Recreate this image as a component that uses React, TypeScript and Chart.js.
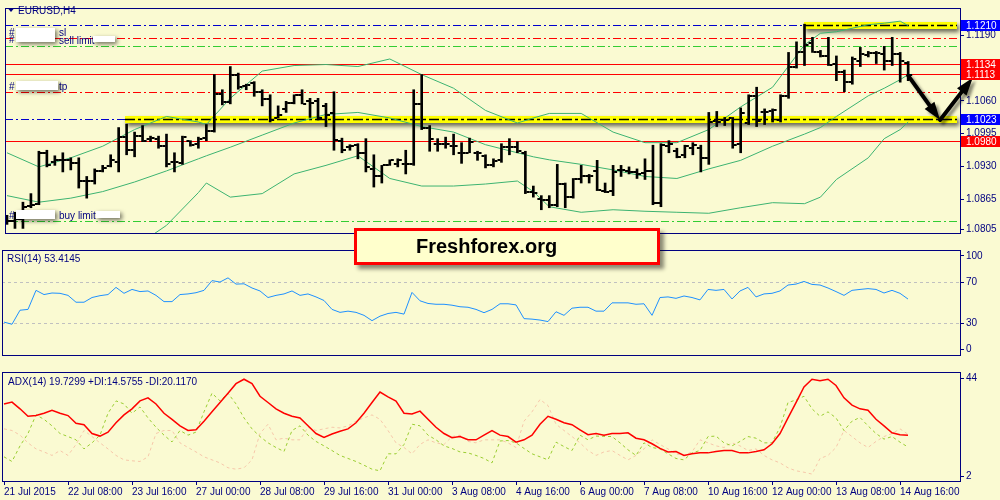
import React, { useEffect, useRef } from 'react';
import { Chart, registerables } from 'chart.js';

Chart.register(...registerables);

// ---------------- data ----------------
const xTickIdx = [0, 8, 16, 24, 32, 40, 48, 56, 64, 72, 80, 88, 96, 104, 112];
const xTickLabels = [
  '21 Jul 2015', '22 Jul 08:00', '23 Jul 16:00', '27 Jul 00:00', '28 Jul 08:00',
  '29 Jul 16:00', '31 Jul 00:00', '3 Aug 08:00', '4 Aug 16:00', '6 Aug 00:00',
  '7 Aug 08:00', '10 Aug 16:00', '12 Aug 00:00', '13 Aug 08:00', '14 Aug 16:00',
];

const opens = [
  1.0820, 1.0822, 1.0826, 1.0852, 1.0856, 1.0957, 1.0938, 1.0943, 1.0942, 1.0936,
  1.0901, 1.0901, 1.0921, 1.0930, 1.0938, 1.0988, 1.0962, 1.0990, 1.0985, 1.0985,
  1.0970, 1.0938, 1.0936, 1.0981, 1.0975, 1.0986, 1.1001, 1.1074, 1.1057, 1.1112,
  1.1089, 1.1095, 1.1078, 1.1063, 1.1026, 1.1044, 1.1055, 1.1072, 1.1059, 1.1059,
  1.1050, 1.1035, 1.0981, 1.0968, 1.0973, 1.0957, 1.0925, 1.0910, 1.0932, 1.0934,
  1.0934, 1.0934, 1.1054, 1.1007, 1.0975, 1.0975, 1.0970, 1.0957, 1.0957, 1.0957,
  1.0951, 1.0932, 1.0942, 1.0968, 1.0968, 1.0957, 1.0880, 1.0865, 1.0863, 1.0854,
  1.0895, 1.0869, 1.0904, 1.0910, 1.0921, 1.0882, 1.0882, 1.0923, 1.0921, 1.0919,
  1.0917, 1.0921, 1.0858, 1.0970, 1.0960, 1.0953, 1.0966, 1.0966, 1.0947, 1.1020,
  1.1022, 1.1026, 1.0975, 1.1016, 1.1069, 1.1037, 1.1039, 1.1022, 1.1070, 1.1128,
  1.1156, 1.1175, 1.1156, 1.1149, 1.1134, 1.1117, 1.1097, 1.1138, 1.1151, 1.1154,
  1.1153, 1.1138, 1.1153, 1.1136,
];
const highs = [
  1.0833, 1.0839, 1.0859, 1.0876, 1.0960, 1.0962, 1.0951, 1.0957, 1.0947, 1.0947,
  1.0910, 1.0925, 1.0932, 1.0953, 1.1007, 1.1014, 1.0998, 1.1011, 1.0990, 1.0990,
  1.0994, 1.0957, 1.0990, 1.0981, 1.0988, 1.1013, 1.1112, 1.1082, 1.1128, 1.1115,
  1.1093, 1.1098, 1.1082, 1.1072, 1.1050, 1.1059, 1.1072, 1.1082, 1.1065, 1.1065,
  1.1055, 1.1078, 1.0986, 1.0973, 1.0975, 1.0985, 1.0953, 1.0932, 1.0943, 1.0945,
  1.0962, 1.1082, 1.1112, 1.1011, 1.0985, 1.0988, 1.0994, 1.0977, 1.0986, 1.0960,
  1.0953, 1.0945, 1.0975, 1.0985, 1.0979, 1.0960, 1.0891, 1.0872, 1.0872, 1.0934,
  1.0897, 1.0906, 1.0932, 1.0914, 1.0942, 1.0897, 1.0932, 1.0932, 1.0929, 1.0925,
  1.0945, 1.0972, 1.0975, 1.0981, 1.0966, 1.0972, 1.0977, 1.0972, 1.1037, 1.1039,
  1.1027, 1.1027, 1.1046, 1.1072, 1.1087, 1.1044, 1.1044, 1.1072, 1.1156, 1.1177,
  1.1212, 1.1186, 1.1160, 1.1186, 1.1149, 1.1121, 1.1147, 1.1166, 1.1158, 1.1158,
  1.1168, 1.1186, 1.1156, 1.1138,
];
const lows = [
  1.0815, 1.0807, 1.0807, 1.0848, 1.0854, 1.0929, 1.0932, 1.0919, 1.0923, 1.0887,
  1.0867, 1.0895, 1.0919, 1.0929, 1.0919, 1.0953, 1.0949, 1.0979, 1.0979, 1.0966,
  1.0929, 1.0919, 1.0934, 1.0970, 1.0966, 1.0981, 1.0998, 1.1052, 1.1054, 1.1083,
  1.1082, 1.1069, 1.1050, 1.1018, 1.1026, 1.1037, 1.1054, 1.1054, 1.1027, 1.1022,
  1.1009, 1.0962, 1.0957, 1.0962, 1.0945, 1.0919, 1.0889, 1.0897, 1.0932, 1.0929,
  1.0915, 1.0932, 1.1003, 1.0960, 1.0960, 1.0966, 1.0953, 1.0936, 1.0957, 1.0942,
  1.0927, 1.0929, 1.0938, 1.0953, 1.0957, 1.0876, 1.0869, 1.0844, 1.0848, 1.0850,
  1.0848, 1.0867, 1.0897, 1.0897, 1.0882, 1.0878, 1.0872, 1.0910, 1.0915, 1.0906,
  1.0904, 1.0854, 1.0850, 1.0957, 1.0947, 1.0947, 1.0953, 1.0919, 1.0934, 1.1009,
  1.1011, 1.0966, 1.0957, 1.1013, 1.1009, 1.1013, 1.1018, 1.1018, 1.1065, 1.1125,
  1.1130, 1.1156, 1.1147, 1.1130, 1.1100, 1.1078, 1.1093, 1.1128, 1.1147, 1.1134,
  1.1121, 1.1130, 1.1097, 1.1100,
];
const closes = [
  1.0822, 1.0826, 1.0850, 1.0854, 1.0957, 1.0932, 1.0943, 1.0942, 1.0936, 1.0901,
  1.0901, 1.0921, 1.0927, 1.0942, 1.0988, 1.0962, 1.0990, 1.0981, 1.0986, 1.0970,
  1.0934, 1.0938, 1.0988, 1.0973, 1.0985, 1.1001, 1.1074, 1.1057, 1.1112, 1.1087,
  1.1091, 1.1078, 1.1063, 1.1022, 1.1031, 1.1055, 1.1072, 1.1054, 1.1055, 1.1026,
  1.1031, 1.0983, 1.0962, 1.0970, 1.0957, 1.0929, 1.0910, 1.0932, 1.0942, 1.0943,
  1.0934, 1.1054, 1.1007, 1.0985, 1.0975, 1.0975, 1.0970, 1.0957, 1.0979, 1.0957,
  1.0932, 1.0940, 1.0968, 1.0968, 1.0960, 1.0880, 1.0878, 1.0863, 1.0854, 1.0895,
  1.0869, 1.0904, 1.0910, 1.0910, 1.0884, 1.0880, 1.0919, 1.0923, 1.0919, 1.0915,
  1.0921, 1.0858, 1.0973, 1.0975, 1.0949, 1.0970, 1.0972, 1.0947, 1.1018, 1.1018,
  1.1022, 1.0973, 1.1035, 1.1069, 1.1020, 1.1037, 1.1041, 1.1070, 1.1128, 1.1156,
  1.1171, 1.1156, 1.1149, 1.1132, 1.1117, 1.1097, 1.1143, 1.1153, 1.1154, 1.1154,
  1.1138, 1.1153, 1.1138, 1.1112,
];

const bandIdx = [0, 4, 8, 12, 16, 20, 24, 25, 28, 32, 36, 40, 44, 48, 52, 56, 60, 64, 66, 68, 72, 76, 80, 84, 88, 92, 96, 100, 102, 104, 108, 110, 112, 113];
const bbUpper = [
  1.0957, 1.0929, 1.0947, 1.0970, 1.1003, 1.1029, 1.1018, 1.1013, 1.1065, 1.1119,
  1.1130, 1.1132, 1.1128, 1.1143, 1.1112, 1.1085, 1.1041, 1.1016, 1.1026, 1.1035,
  1.1035, 1.0998, 1.0977, 1.0977, 1.1003, 1.1048, 1.1087, 1.1171, 1.1194, 1.1197,
  1.1211, 1.1214, 1.1218, 1.1209,
];
const bbMiddle = [
  1.0872, 1.0859, 1.0867, 1.0880, 1.0899, 1.0921, 1.0945, 1.0951, 1.0968, 1.0992,
  1.1016, 1.1033, 1.1037, 1.1026, 1.1009, 1.0998, 1.0973, 1.0957, 1.0949, 1.0943,
  1.0934, 1.0923, 1.0910, 1.0906, 1.0925, 1.0942, 1.0970, 1.0994, 1.1007, 1.1029,
  1.1070, 1.1085, 1.1102, 1.1112,
];
const bbLower = [
  1.0686, 1.0695, 1.0714, 1.0732, 1.0770, 1.0813, 1.0878, 1.0897, 1.0869, 1.0876,
  1.0915, 1.0932, 1.0951, 1.0906, 1.0891, 1.0891, 1.0895, 1.0901, 1.0880, 1.0850,
  1.0839, 1.0844, 1.0841, 1.0839, 1.0837, 1.0848, 1.0858, 1.0856, 1.0869, 1.0904,
  1.0947, 1.0985, 1.1003, 1.1018,
];

const rsi = [
  30.9, 28.8, 42.5, 43.3, 61.9, 57.8, 59.3, 59.0, 57.0, 50.3,
  50.3, 54.9, 56.7, 57.8, 64.8, 59.0, 62.8, 60.7, 61.3, 57.0,
  50.9, 50.9, 57.8, 58.4, 59.6, 61.9, 71.4, 70.0, 74.1, 68.0,
  68.3, 64.2, 61.3, 54.9, 57.0, 58.4, 61.3, 57.0, 58.4, 55.5,
  52.0, 43.3, 40.4, 41.6, 40.4, 37.5, 32.3, 36.7, 39.3, 40.4,
  38.7, 59.9, 51.7, 49.1, 48.3, 48.3, 47.4, 45.9, 45.4, 43.3,
  40.1, 43.3, 48.8, 48.8, 47.7, 34.3, 33.8, 32.9, 31.4, 41.0,
  37.5, 44.5, 45.4, 45.4, 41.6, 41.6, 49.7, 49.7, 49.7, 48.3,
  48.8, 37.5, 54.9, 55.5, 54.1, 56.4, 54.9, 52.6, 62.8, 61.9,
  62.8, 53.5, 61.3, 64.8, 55.5, 58.4, 59.0, 61.3, 67.1, 68.0,
  70.6, 67.7, 67.1, 64.2, 60.7, 57.0, 61.9, 62.8, 63.6, 62.8,
  59.3, 61.9, 59.0, 53.4,
];

const adx = [
  33.1, 33.9, 31.0, 27.8, 28.1, 29.1, 30.4, 29.1, 28.1, 24.8,
  24.2, 20.4, 19.3, 21.0, 25.0, 28.4, 31.0, 34.4, 35.7, 33.1,
  29.1, 26.5, 23.7, 21.7, 22.0, 25.7, 29.7, 33.7, 37.7, 41.8,
  43.7, 41.8, 36.4, 33.7, 31.0, 29.1, 27.8, 27.1, 23.7, 20.4,
  18.7, 20.2, 21.4, 22.4, 25.0, 29.1, 33.7, 38.2, 36.1, 34.3,
  29.1, 28.8, 30.0, 26.5, 23.1, 20.4, 18.6, 19.1, 17.7, 17.7,
  19.7, 21.7, 19.7, 19.1, 16.7, 17.7, 19.7, 24.4, 27.8, 26.5,
  25.0, 24.2, 22.0, 19.9, 20.4, 19.7, 20.4, 20.4, 20.7, 18.4,
  17.7, 16.0, 14.0, 12.5, 12.7, 11.0, 11.7, 12.1, 12.1, 12.7,
  13.1, 13.1, 12.1, 12.1, 12.7, 13.4, 16.0, 20.4, 27.1, 33.7,
  40.4, 43.7, 43.1, 43.7, 41.0, 35.7, 32.6, 31.0, 30.4, 26.5,
  23.7, 20.7, 19.9, 19.7,
];
const plusDI = [
  10.4, 8.4, 15.1, 20.4, 28.4, 26.5, 23.7, 20.4, 19.1, 17.7,
  13.8, 16.4, 19.7, 29.1, 34.4, 33.1, 29.1, 31.8, 27.1, 23.1,
  19.7, 16.8, 21.7, 19.7, 21.0, 29.7, 37.7, 34.4, 37.7, 33.1,
  27.1, 22.4, 19.1, 16.4, 14.4, 12.7, 21.7, 23.7, 19.7, 17.0,
  15.1, 13.1, 11.0, 9.7, 8.4, 6.8, 5.1, 4.4, 11.7, 11.7,
  15.7, 24.4, 23.7, 19.7, 17.7, 15.1, 14.0, 12.5, 12.1, 11.0,
  9.7, 7.8, 17.2, 17.4, 16.4, 14.0, 11.7, 10.4, 9.1, 16.7,
  14.8, 13.1, 19.7, 17.7, 19.3, 19.2, 19.1, 16.4, 13.4, 11.0,
  16.4, 14.4, 13.8, 11.7, 9.7, 9.1, 12.1, 13.1, 19.1, 19.3,
  16.4, 15.1, 17.0, 19.1, 18.4, 16.4, 16.4, 23.1, 33.7, 34.8,
  36.4, 31.0, 27.8, 29.7, 27.1, 21.7, 25.7, 27.3, 23.7, 20.4,
  18.0, 19.1, 16.7, 14.6,
];
const minusDI = [
  22.4, 21.7, 19.7, 16.4, 13.8, 12.5, 11.0, 13.1, 11.0, 15.7,
  21.7, 19.1, 16.4, 13.8, 11.0, 9.1, 8.7, 8.4, 10.4, 20.4,
  21.7, 21.7, 16.4, 14.4, 12.5, 10.4, 9.1, 7.8, 5.7, 5.1,
  5.7, 9.1, 20.4, 24.4, 17.7, 18.4, 17.7, 17.7, 23.1, 21.7,
  22.4, 23.1, 22.8, 23.7, 25.7, 27.1, 28.4, 26.5, 21.7, 16.4,
  14.4, 11.7, 15.7, 17.7, 16.4, 15.7, 19.1, 19.7, 17.0, 16.4,
  17.7, 17.7, 17.7, 16.4, 14.4, 25.7, 29.7, 35.0, 32.4, 24.4,
  21.7, 19.1, 16.4, 13.1, 11.0, 12.5, 13.1, 11.0, 9.1, 11.0,
  13.8, 17.7, 15.7, 13.8, 11.7, 11.0, 12.5, 17.7, 16.4, 15.1,
  14.4, 16.4, 15.1, 13.1, 13.8, 11.0, 9.1, 7.8, 5.7, 4.4,
  3.8, 3.0, 9.7, 11.0, 14.4, 21.7, 19.1, 16.4, 14.4, 17.0,
  19.1, 20.4, 22.4, 20.1,
];

const mainTicks = [1.1190, 1.1125, 1.1060, 1.0995, 1.0930, 1.0865, 1.0805];
const levelPrices = [1.1210, 1.1184, 1.1169, 1.1134, 1.1113, 1.1078, 1.1023, 1.0980, 1.0822];
const levelKinds = ['blueDD', 'redDD', 'greenDD', 'red', 'red', 'redDD', 'blueDD', 'red', 'greenDD'];
const zonePrices = [1.1210, 1.1023];
const zoneStartIdx = [99.9, 14.75];
const priceTags = [1.1210, 1.1134, 1.1113, 1.1023, 1.0980];
const priceTagKinds = ['blue', 'red', 'red', 'blue', 'red'];
const arrowIdx = [113, 117, 121.1];
const arrowPrice = [1.1110, 1.1022, 1.1106];
const rsiTickVals = [95.5, 70, 30, 4.3];
const rsiTickLabels = ['100', '70', '30', '0'];
const rsiLevels = [70, 30];
const adxTicks = [44, 2];

// ---------------- styles ----------------
const BG = '#FAFAD2';
const NAVY = '#000080';
const FONT = "'Liberation Sans', Arial, sans-serif";
const X_MIN = -0.25;
const X_MAX = 119.625;
const DD = [8, 3, 2, 3];
const levelStyles: Record<string, { color: string; dash: number[] }> = {
  blueDD: { color: '#0000CD', dash: DD },
  redDD: { color: '#FF0000', dash: DD },
  greenDD: { color: '#32CD32', dash: DD },
  red: { color: '#FF0000', dash: [] },
};
const tagColors: Record<string, string> = { blue: '#0000FF', red: '#FF0000' };

function drawFrame(chart: any) {
  const { ctx, chartArea: a } = chart;
  ctx.save();
  ctx.strokeStyle = NAVY;
  ctx.lineWidth = 1;
  ctx.setLineDash([]);
  ctx.strokeRect(a.left + 0.5, a.top + 0.5, a.right - a.left - 1, a.bottom - a.top - 1);
  ctx.restore();
}

function drawArrow(ctx: CanvasRenderingContext2D, x0: number, y0: number, x1: number, y1: number) {
  const ang = Math.atan2(y1 - y0, x1 - x0);
  const headLen = 18;
  const headW = 6;
  const bx = x1 - headLen * Math.cos(ang);
  const by = y1 - headLen * Math.sin(ang);
  ctx.beginPath();
  ctx.moveTo(x0, y0);
  ctx.lineTo(bx, by);
  ctx.stroke();
  ctx.beginPath();
  ctx.moveTo(x1, y1);
  ctx.lineTo(bx + headW * Math.sin(ang), by - headW * Math.cos(ang));
  ctx.lineTo(bx - headW * Math.sin(ang), by + headW * Math.cos(ang));
  ctx.closePath();
  ctx.fill();
}

function maskRect(ctx: CanvasRenderingContext2D, x: number, y: number, w: number, h: number) {
  ctx.save();
  ctx.shadowColor = 'rgba(0,0,0,0.55)';
  ctx.shadowBlur = 4;
  ctx.shadowOffsetX = 2;
  ctx.shadowOffsetY = 2;
  ctx.fillStyle = '#FFFFFF';
  ctx.fillRect(x, y, w, h);
  ctx.restore();
}

const mainOverlay = {
  id: 'mainOverlay',
  beforeDatasetsDraw(chart: any) {
    const { ctx, chartArea: a, scales } = chart;
    const x = scales.x;
    const y = scales.y;
    ctx.save();
    ctx.beginPath();
    ctx.rect(a.left, a.top, a.right - a.left, a.bottom - a.top);
    ctx.clip();
    levelPrices.forEach((p, k) => {
      const st = levelStyles[levelKinds[k]];
      const py = Math.round(y.getPixelForValue(p)) + 0.5;
      ctx.strokeStyle = st.color;
      ctx.lineWidth = 1;
      ctx.setLineDash(st.dash);
      ctx.beginPath();
      ctx.moveTo(a.left, py);
      ctx.lineTo(a.right, py);
      ctx.stroke();
    });
    zonePrices.forEach((p, k) => {
      const py = Math.round(y.getPixelForValue(p));
      const x0 = Math.round(x.getPixelForValue(zoneStartIdx[k]));
      const x1 = a.right - 4;
      ctx.save();
      ctx.setLineDash([]);
      ctx.shadowColor = 'rgba(0,0,0,0.6)';
      ctx.shadowBlur = 4;
      ctx.shadowOffsetX = 2;
      ctx.shadowOffsetY = 3;
      ctx.fillStyle = '#FFFF00';
      ctx.fillRect(x0, py - 3, x1 - x0, 7);
      ctx.restore();
      ctx.strokeStyle = '#000000';
      ctx.lineWidth = 1.5;
      ctx.setLineDash([10, 3, 3, 3]);
      ctx.beginPath();
      ctx.moveTo(x0, py + 0.5);
      ctx.lineTo(x1, py + 0.5);
      ctx.stroke();
    });
    ctx.restore();
  },
  afterDraw(chart: any) {
    const { ctx, chartArea: a, scales } = chart;
    const x = scales.x;
    const y = scales.y;
    drawFrame(chart);
    ctx.save();
    // order labels
    const lineY = (p: number) => Math.round(y.getPixelForValue(p));
    const ySl = lineY(levelPrices[1]);
    const ySell = lineY(levelPrices[2]);
    const yTp = lineY(levelPrices[5]);
    const yBuy = lineY(levelPrices[8]);
    ctx.font = `10px ${FONT}`;
    ctx.textBaseline = 'alphabetic';
    ctx.textAlign = 'left';
    ctx.fillStyle = NAVY;
    ctx.fillText('#', 9, ySl - 2);
    ctx.fillText('#', 9, ySell - 3);
    ctx.fillText('sl', 59, ySl - 2);
    ctx.fillText('sell limit', 59, ySell - 2);
    ctx.fillText('#', 9, yTp - 2);
    ctx.fillText('tp', 59, yTp - 2);
    ctx.fillText('#', 9, yBuy - 2);
    ctx.fillText('buy limit', 59, yBuy - 2);
    maskRect(ctx, 16, ySl - 10, 39, ySell - ySl + 6);
    maskRect(ctx, 93, ySell - 10, 22, 6);
    maskRect(ctx, 16, yTp - 11, 42, 9);
    maskRect(ctx, 16, yBuy - 11, 39, 9);
    maskRect(ctx, 96, yBuy - 10, 24, 7);

    // arrows
    const pts = arrowIdx.map((v, k) => [x.getPixelForValue(v), y.getPixelForValue(arrowPrice[k])]);
    ctx.save();
    ctx.shadowColor = 'rgba(0,0,0,0.45)';
    ctx.shadowBlur = 3;
    ctx.shadowOffsetX = 3;
    ctx.shadowOffsetY = 3;
    ctx.strokeStyle = '#000000';
    ctx.fillStyle = '#000000';
    ctx.lineWidth = 4;
    ctx.lineCap = 'round';
    drawArrow(ctx, pts[0][0], pts[0][1], pts[1][0], pts[1][1]);
    drawArrow(ctx, pts[1][0], pts[1][1], pts[2][0], pts[2][1]);
    ctx.restore();

    // price tags on the axis
    priceTags.forEach((p, k) => {
      const py = Math.round(y.getPixelForValue(p));
      ctx.fillStyle = tagColors[priceTagKinds[k]];
      ctx.fillRect(a.right, py - 5, 1000 - a.right, 11);
      ctx.fillStyle = '#FFFFFF';
      ctx.font = `10px ${FONT}`;
      ctx.textBaseline = 'middle';
      ctx.textAlign = 'left';
      ctx.fillText(p.toFixed(4), a.right + 5, py + 1);
    });

    // title
    ctx.fillStyle = NAVY;
    ctx.beginPath();
    ctx.moveTo(8, 8.5);
    ctx.lineTo(14, 8.5);
    ctx.lineTo(11, 12);
    ctx.closePath();
    ctx.fill();
    ctx.font = `10px ${FONT}`;
    ctx.textBaseline = 'middle';
    ctx.textAlign = 'left';
    ctx.fillText('EURUSD,H4', 18, 11);
    ctx.restore();
  },
};

const rsiOverlay = {
  id: 'rsiOverlay',
  beforeDatasetsDraw(chart: any) {
    const { ctx, chartArea: a, scales } = chart;
    ctx.save();
    ctx.strokeStyle = '#C0C0C0';
    ctx.lineWidth = 1;
    ctx.setLineDash([3, 3]);
    rsiLevels.forEach((v) => {
      const py = Math.round(scales.y.getPixelForValue(v)) + 0.5;
      ctx.beginPath();
      ctx.moveTo(a.left, py);
      ctx.lineTo(a.right, py);
      ctx.stroke();
    });
    ctx.restore();
  },
  afterDraw(chart: any) {
    const { ctx, chartArea: a } = chart;
    drawFrame(chart);
    ctx.save();
    ctx.fillStyle = NAVY;
    ctx.font = `10px ${FONT}`;
    ctx.textBaseline = 'middle';
    ctx.textAlign = 'left';
    ctx.fillText('RSI(14) 53.4145', a.left + 5, a.top + 9);
    ctx.restore();
  },
};

const adxOverlay = {
  id: 'adxOverlay',
  afterDraw(chart: any) {
    const { ctx, chartArea: a } = chart;
    drawFrame(chart);
    ctx.save();
    ctx.fillStyle = NAVY;
    ctx.font = `10px ${FONT}`;
    ctx.textBaseline = 'middle';
    ctx.textAlign = 'left';
    ctx.fillText('ADX(14) 19.7299 +DI:14.5755 -DI:20.1170', a.left + 6, a.top + 10);
    ctx.restore();
  },
};

function yAxisCommon() {
  return {
    position: 'right' as const,
    afterFit: (s: any) => {
      s.width = 39;
    },
    ticks: { autoSkip: false, color: NAVY, font: { family: FONT, size: 10 }, padding: 2 },
    grid: { drawOnChartArea: false, drawTicks: true, tickLength: 3, color: NAVY },
    border: { display: false },
  };
}

function hiddenX() {
  return { type: 'linear' as const, min: X_MIN, max: X_MAX, display: false, offset: false };
}

function makeTick(color: string, side: 'left' | 'right') {
  const c = document.createElement('canvas');
  c.width = 10;
  c.height = 2;
  const g = c.getContext('2d')!;
  g.fillStyle = color;
  if (side === 'left') g.fillRect(1, 0, 3, 2);
  else g.fillRect(6, 0, 3, 2);
  return c;
}

export default function App() {
  const mainRef = useRef<HTMLCanvasElement>(null);
  const rsiRef = useRef<HTMLCanvasElement>(null);
  const adxRef = useRef<HTMLCanvasElement>(null);

  useEffect(() => {
    document.body.style.margin = '0';
    Chart.defaults.font.family = FONT;
    const barIdx = opens.map((_, i) => i);
    const openTick = makeTick('#000000', 'left');
    const closeTick = makeTick('#000000', 'right');
    const common = {
      animation: false as const,
      responsive: false,
      maintainAspectRatio: false,
      events: [] as any[],
    };

    const bandDs = (vals: number[]) => ({
      type: 'line' as const,
      data: bandIdx.map((b, k) => ({ x: b, y: vals[k] })),
      borderColor: '#3CB371',
      borderWidth: 1,
      pointRadius: 0,
      tension: 0,
      order: 3,
    });

    const main = new Chart(mainRef.current!, {
      type: 'line',
      data: {
        datasets: [
          {
            type: 'scatter' as const,
            data: barIdx.map((i) => ({ x: i, y: opens[i] })),
            pointStyle: openTick as any,
            pointRadius: 3,
            order: 0,
          },
          {
            type: 'scatter' as const,
            data: barIdx.map((i) => ({ x: i, y: closes[i] })),
            pointStyle: closeTick as any,
            pointRadius: 3,
            order: 0,
          },
          {
            type: 'bar' as const,
            data: barIdx.map((i) => ({ x: i, y: [lows[i], highs[i]] })) as any,
            backgroundColor: '#000000',
            barThickness: 2,
            grouped: false,
            order: 1,
          },
          bandDs(bbUpper) as any,
          bandDs(bbMiddle) as any,
          bandDs(bbLower) as any,
        ],
      },
      options: {
        ...common,
        layout: { padding: { left: 2, top: 1, bottom: 1, right: 0 } },
        plugins: { legend: { display: false }, tooltip: { enabled: false } },
        scales: {
          x: hiddenX(),
          y: {
            ...yAxisCommon(),
            min: 1.07959,
            max: 1.12441,
            afterBuildTicks: (axis: any) => {
              axis.ticks = mainTicks.map((v) => ({ value: v }));
            },
            ticks: {
              ...yAxisCommon().ticks,
              callback: (v: any) => Number(v).toFixed(4),
            },
          },
        },
      } as any,
      plugins: [mainOverlay],
    });

    const rsiChart = new Chart(rsiRef.current!, {
      type: 'line',
      data: {
        datasets: [
          {
            data: rsi.map((v, i) => ({ x: i, y: v })),
            borderColor: '#1E90FF',
            borderWidth: 1,
            pointRadius: 0,
            tension: 0,
          },
        ],
      },
      options: {
        ...common,
        layout: { padding: { left: 2, top: 2, bottom: 1, right: 0 } },
        plugins: { legend: { display: false }, tooltip: { enabled: false } },
        scales: {
          x: hiddenX(),
          y: {
            ...yAxisCommon(),
            min: -2.2,
            max: 101.3,
            afterBuildTicks: (axis: any) => {
              axis.ticks = rsiTickVals.map((v) => ({ value: v }));
            },
            ticks: {
              ...yAxisCommon().ticks,
              callback: (_v: any, idx: number) => rsiTickLabels[idx],
            },
          },
        },
      } as any,
      plugins: [rsiOverlay],
    });

    const adxChart = new Chart(adxRef.current!, {
      type: 'line',
      data: {
        datasets: [
          {
            data: adx.map((v, i) => ({ x: i, y: v })),
            borderColor: '#FF0000',
            borderWidth: 1.5,
            pointRadius: 0,
            tension: 0,
          },
          {
            data: plusDI.map((v, i) => ({ x: i, y: v })),
            borderColor: '#9ACD32',
            borderWidth: 1,
            borderDash: [3, 3],
            pointRadius: 0,
            tension: 0,
          },
          {
            data: minusDI.map((v, i) => ({ x: i, y: v })),
            borderColor: '#F6C7AA',
            borderWidth: 1,
            borderDash: [3, 3],
            pointRadius: 0,
            tension: 0,
          },
        ],
      },
      options: {
        ...common,
        layout: { padding: { left: 2, top: 0, bottom: 0, right: 0 } },
        plugins: { legend: { display: false }, tooltip: { enabled: false } },
        scales: {
          x: {
            type: 'linear',
            min: X_MIN,
            max: X_MAX,
            offset: false,
            afterFit: (s: any) => {
              s.height = 18;
            },
            afterBuildTicks: (axis: any) => {
              axis.ticks = xTickIdx.map((v) => ({ value: v }));
            },
            ticks: {
              autoSkip: false,
              maxRotation: 0,
              minRotation: 0,
              align: 'start',
              color: NAVY,
              font: { family: FONT, size: 10 },
              padding: 1,
              callback: (_v: any, idx: number) => xTickLabels[idx],
            },
            grid: { drawOnChartArea: false, drawTicks: true, tickLength: 3, color: NAVY },
            border: { display: false },
          },
          y: {
            ...yAxisCommon(),
            min: -0.4,
            max: 46.8,
            afterBuildTicks: (axis: any) => {
              axis.ticks = adxTicks.map((v) => ({ value: v }));
            },
            ticks: {
              ...yAxisCommon().ticks,
              callback: (v: any) => String(v),
            },
          },
        },
      } as any,
      plugins: [adxOverlay],
    });

    return () => {
      main.destroy();
      rsiChart.destroy();
      adxChart.destroy();
    };
  }, []);

  return (
    <div
      style={{
        position: 'absolute',
        left: 0,
        top: 0,
        width: 1000,
        height: 500,
        background: BG,
        overflow: 'hidden',
      }}
    >
      <canvas ref={mainRef} width={1000} height={242} style={{ position: 'absolute', left: 0, top: 0 }} />
      <canvas ref={rsiRef} width={1000} height={122} style={{ position: 'absolute', left: 0, top: 242 }} />
      <canvas ref={adxRef} width={1000} height={136} style={{ position: 'absolute', left: 0, top: 364 }} />
      <div
        style={{
          position: 'absolute',
          left: 354,
          top: 228,
          width: 306,
          height: 37,
          boxSizing: 'border-box',
          border: '3px solid #FF0000',
          background: '#FFFFCC',
          boxShadow: '4px 4px 4px rgba(0,0,0,0.45)',
        }}
      >
        <span
          style={{
            position: 'absolute',
            left: 59,
            top: 0,
            lineHeight: '31px',
            fontFamily: FONT,
            fontWeight: 'bold',
            fontSize: 20,
            color: '#000000',
            whiteSpace: 'nowrap',
          }}
        >
          Freshforex.org
        </span>
      </div>
    </div>
  );
}
